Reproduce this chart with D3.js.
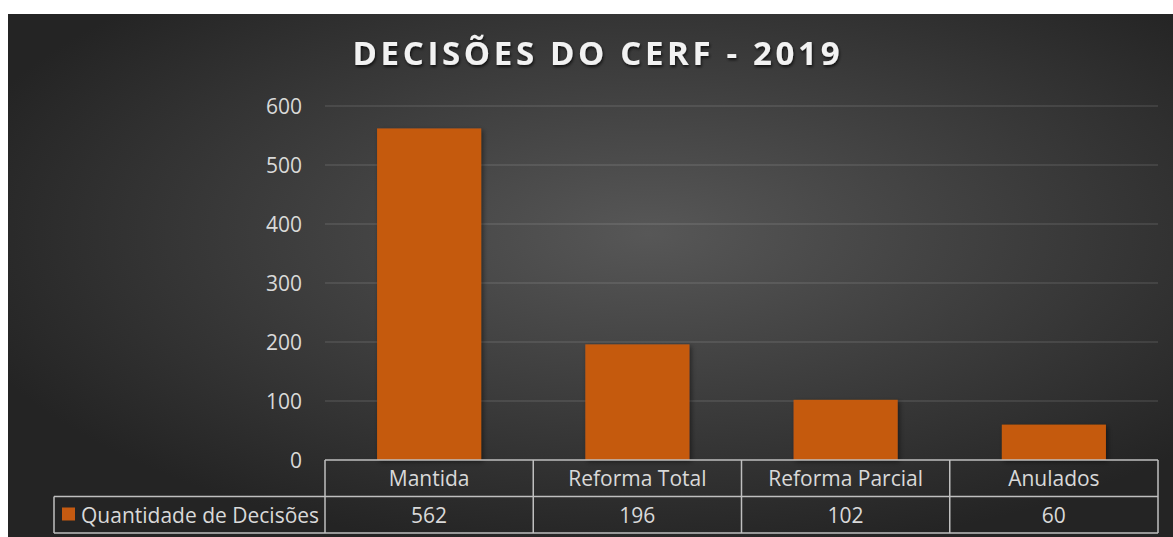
<!DOCTYPE html>
<html>
<head>
<meta charset="utf-8">
<script src="https://cdn.jsdelivr.net/npm/d3@7"></script>
<style>
  html, body { margin: 0; padding: 0; background: #ffffff; }
  svg { display: block; }
  .charts-text { font-family: "Open Sans", sans-serif; fill: #d9d9d9; }
</style>
</head>
<body>
<div id="chart"></div>
<script>
const title = "DECISÕES DO CERF - 2019";
const seriesName = "Quantidade de Decisões";
const categories = ["Mantida", "Reforma Total", "Reforma Parcial", "Anulados"];
const values = [562, 196, 102, 60];
const yTicks = [0, 100, 200, 300, 400, 500, 600];

const width = 1173;
const height = 537;
const frame = {left: 8, top: 14};
const plot = {left: 325, right: 1158, top: 106, bottom: 460};
const rowHeight = 36.5;
const legendLeft = 54;
const fontSize = 21;
const barColor = "#c55a11";

const svg = d3.select("#chart").append("svg")
    .attr("width", width)
    .attr("height", height)
    .attr("viewBox", [0, 0, width, height]);

const defs = svg.append("defs");

const grad = defs.append("radialGradient")
    .attr("id", "bg")
    .attr("cx", 0.55).attr("cy", 0.42).attr("r", 0.62);
grad.append("stop").attr("offset", "0%").attr("stop-color", "#575757");
grad.append("stop").attr("offset", "100%").attr("stop-color", "#242424");

const barShadow = defs.append("filter").attr("id", "barShadow")
    .attr("x", "-10%").attr("y", "-10%").attr("width", "130%").attr("height", "130%");
barShadow.append("feDropShadow")
    .attr("dx", 2).attr("dy", 2).attr("stdDeviation", 2.5)
    .attr("flood-color", "#000").attr("flood-opacity", 0.45);

const titleShadow = defs.append("filter").attr("id", "titleShadow")
    .attr("x", "-5%").attr("y", "-20%").attr("width", "110%").attr("height", "150%");
titleShadow.append("feDropShadow")
    .attr("dx", 1).attr("dy", 2).attr("stdDeviation", 1.5)
    .attr("flood-color", "#000").attr("flood-opacity", 0.7);

// background
svg.append("rect")
    .attr("x", frame.left)
    .attr("y", frame.top)
    .attr("width", width - frame.left)
    .attr("height", height - frame.top)
    .attr("fill", "url(#bg)");

// scales
const x = d3.scaleBand()
    .domain(categories)
    .range([plot.left, plot.right])
    .paddingInner(0.5)
    .paddingOuter(0.25);

const y = d3.scaleLinear()
    .domain([0, 600])
    .range([plot.bottom, plot.top]);

// gridlines
svg.append("g")
    .selectAll("line")
    .data(yTicks.filter(d => d > 0))
    .join("line")
    .attr("x1", plot.left)
    .attr("x2", plot.right)
    .attr("y1", d => y(d))
    .attr("y2", d => y(d))
    .attr("stroke", "#ffffff")
    .attr("stroke-opacity", 0.12)
    .attr("stroke-width", 1.5);

// y axis
const yAxis = g => g
    .attr("transform", `translate(${plot.left},0)`)
    .call(d3.axisLeft(y).tickValues(yTicks).tickSize(0).tickPadding(23)
        .tickFormat(d3.format("d")))
    .call(g => g.select(".domain").remove())
    .call(g => g.selectAll("text")
        .attr("class", "charts-text")
        .attr("fill", null)
        .attr("dy", null)
        .attr("y", 7.5)
        .style("font-size", fontSize + "px"));

svg.append("g").call(yAxis);

// bars
svg.append("g")
    .attr("fill", barColor)
    .attr("filter", "url(#barShadow)")
    .selectAll("rect")
    .data(values)
    .join("rect")
    .attr("x", (d, i) => x(categories[i]))
    .attr("y", d => y(d))
    .attr("width", x.bandwidth())
    .attr("height", d => y(0) - y(d));

// data table
const cellLeft = c => x(c) - (x.step() - x.bandwidth()) / 2;
const row1 = plot.bottom;
const row2 = plot.bottom + rowHeight;
const row3 = plot.bottom + rowHeight * 2;

const table = svg.append("g")
    .attr("stroke", "#bfbfbf")
    .attr("stroke-width", 1.5)
    .attr("fill", "none");

table.append("line")
    .attr("x1", plot.left).attr("x2", plot.right)
    .attr("y1", row1).attr("y2", row1);
table.append("line")
    .attr("x1", legendLeft).attr("x2", plot.right)
    .attr("y1", row2).attr("y2", row2);
table.append("line")
    .attr("x1", legendLeft).attr("x2", plot.right)
    .attr("y1", row3).attr("y2", row3);
table.append("line")
    .attr("x1", legendLeft).attr("x2", legendLeft)
    .attr("y1", row2).attr("y2", row3);
table.selectAll(".col")
    .data(categories)
    .join("line")
    .attr("x1", d => cellLeft(d)).attr("x2", d => cellLeft(d))
    .attr("y1", row1).attr("y2", row3);
table.append("line")
    .attr("x1", plot.right).attr("x2", plot.right)
    .attr("y1", row1).attr("y2", row3);

svg.append("g")
    .selectAll("text")
    .data(categories)
    .join("text")
    .attr("class", "charts-text")
    .attr("x", d => x(d) + x.bandwidth() / 2)
    .attr("y", row1 + 26)
    .attr("text-anchor", "middle")
    .style("font-size", fontSize + "px")
    .text(d => d);

svg.append("g")
    .selectAll("text")
    .data(values)
    .join("text")
    .attr("class", "charts-text")
    .attr("x", (d, i) => x(categories[i]) + x.bandwidth() / 2)
    .attr("y", row2 + 26)
    .attr("text-anchor", "middle")
    .style("font-size", fontSize + "px")
    .text(d => d);

// legend key
svg.append("rect")
    .attr("x", 62)
    .attr("y", row2 + 11)
    .attr("width", 13)
    .attr("height", 13)
    .attr("fill", barColor);

svg.append("text")
    .attr("class", "charts-text")
    .attr("x", 81)
    .attr("y", row2 + 26)
    .style("font-size", fontSize + "px")
    .text(seriesName);

// title
svg.append("text")
    .attr("x", 596)
    .attr("y", 65)
    .attr("text-anchor", "middle")
    .attr("fill", "#f2f2f2")
    .attr("filter", "url(#titleShadow)")
    .style("font-family", "\"Open Sans\", sans-serif")
    .style("font-weight", "bold")
    .style("font-size", "33px")
    .attr("textLength", 487)
    .attr("lengthAdjust", "spacing")
    .text(title);
</script>
</body>
</html>
